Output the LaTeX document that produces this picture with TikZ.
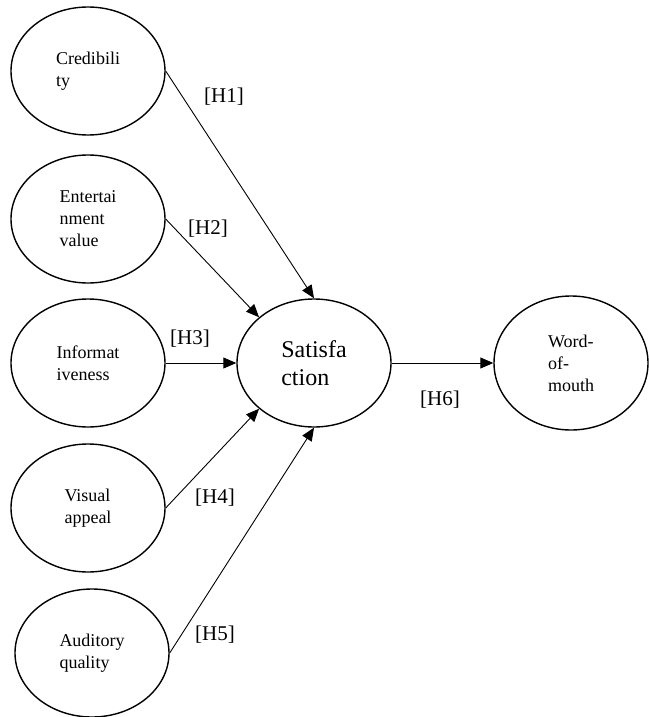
\documentclass[tikz,border=0pt]{standalone}
\usepackage{fontspec}
\setmainfont{Liberation Serif}
\usetikzlibrary{shapes.geometric,arrows.meta}

\begin{document}
\begin{tikzpicture}[x=1pt,y=-1pt]

      \useasboundingbox (0,0) rectangle (648,717);

      \begin{scope}[every node/.style={ellipse,draw,line width=1.4pt,
          minimum width=154pt,minimum height=128pt,inner sep=0pt,align=left,
          font=\fontsize{18}{22}\selectfont}]
        \node (cred) at (88,71)   {Credibili\\ty};
        \node (ent)  at (88,219)  {Entertai\\nment\\value};
        \node (inf)  at (88,363)  {Informat\\iveness};
        \node (vis)  at (88,508)  {Visual\\appeal};
        \node (aud)  at (92,653)  {Auditory\\quality};
        \node[font=\fontsize{24}{28}\selectfont] (sat) at (314,363) {Satisfa\\ction};
        \node[minimum height=134pt] (wom) at (571,363) {Word-\\of-\\mouth};
      \end{scope}

      \begin{scope}[every node/.style={font=\fontsize{21}{25}\selectfont}]
        \node (h1) at (224,97)  {[H1]};
        \node (h2) at (208,229) {[H2]};
        \node (h3) at (190,339) {[H3]};
        \node (h4) at (215,498) {[H4]};
        \node (h5) at (215,635) {[H5]};
        \node (h6) at (440,400) {[H6]};
      \end{scope}

      \begin{scope}[every path/.style={draw,line width=0.9pt,-{Triangle[length=13pt,width=11pt]}}]
        \path (cred.east) -- (sat.north);
        \path (ent.east)  -- (sat.north west);
        \path (inf.east)  -- (sat.west);
        \path (vis.east)  -- (sat.south west);
        \path (aud.east)  -- (sat.south);
        \path (sat.east)  -- (wom.west);
      \end{scope}

    \end{tikzpicture}
\end{document}
